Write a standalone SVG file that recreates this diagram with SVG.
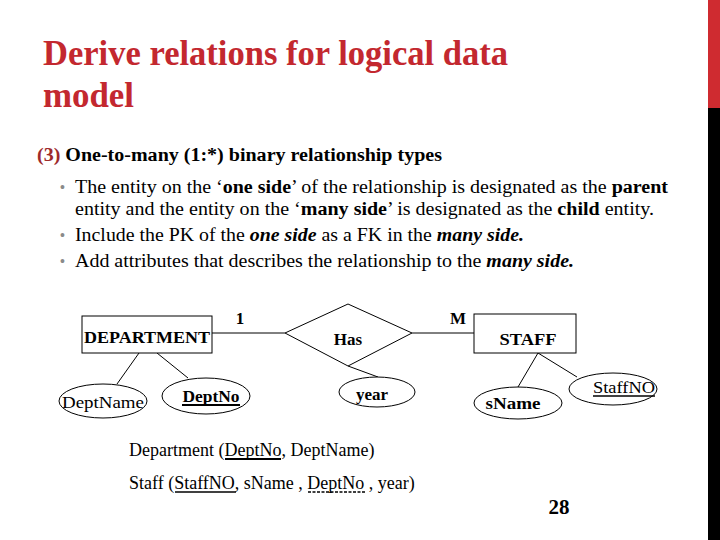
<svg xmlns="http://www.w3.org/2000/svg" width="720" height="540" viewBox="0 0 720 540">
<style>
.serif{font-family:"Liberation Serif","Times New Roman",serif;fill:#000}
.title{font-family:"Liberation Serif","Times New Roman",serif;font-weight:bold;font-size:35px;fill:#C3282F}
.body{font-family:"Liberation Serif","Times New Roman",serif;font-size:18px;fill:#000}
.b{font-weight:bold}
.bi{font-weight:bold;font-style:italic}
.bullet{fill:#8a8a8a;font-family:"Liberation Sans",Arial,sans-serif;font-size:14px}
.shape{fill:#fff;stroke:#000;stroke-width:1}
.conn line{stroke:#000;stroke-width:1}
.lbl{font-size:17px;font-weight:bold;text-anchor:middle}
.attr{font-size:17px;text-anchor:middle}
</style>
<rect x="0" y="0" width="720" height="540" fill="#fff"/>
<rect x="708" y="0" width="12" height="108" fill="#CF2B30"/>
<rect x="708" y="108" width="12" height="432" fill="#000"/>

<text class="title" x="43" y="65" textLength="465" lengthAdjust="spacingAndGlyphs">Derive relations for logical data</text>
<text class="title" x="43" y="107" textLength="91" lengthAdjust="spacingAndGlyphs">model</text>

<text class="body b" x="37" y="161" style="font-family:'Liberation Serif','Times New Roman',serif;font-size:18px" textLength="405" lengthAdjust="spacingAndGlyphs"><tspan fill="#9E2A2B">(3)</tspan> One-to-many (1:*) binary relationship types</text>

<text class="bullet" x="60" y="192">•</text>
<text class="body" x="75" y="193" style="font-family:'Liberation Serif','Times New Roman',serif" textLength="593" lengthAdjust="spacingAndGlyphs">The entity on the ‘<tspan class="b">one side</tspan>’ of the relationship is designated as the <tspan class="b">parent</tspan></text>
<text class="body" x="75" y="215" style="font-family:'Liberation Serif','Times New Roman',serif" textLength="579" lengthAdjust="spacingAndGlyphs">entity and the entity on the ‘<tspan class="b">many side</tspan>’ is designated as the <tspan class="b">child</tspan> entity.</text>
<text class="bullet" x="60" y="240">•</text>
<text class="body" x="75" y="241" style="font-family:'Liberation Serif','Times New Roman',serif" textLength="449" lengthAdjust="spacingAndGlyphs">Include the PK of the <tspan class="bi">one side</tspan> as a FK in the <tspan class="bi">many side.</tspan></text>
<text class="bullet" x="60" y="266">•</text>
<text class="body" x="75" y="267" style="font-family:'Liberation Serif','Times New Roman',serif" textLength="499" lengthAdjust="spacingAndGlyphs">Add attributes that describes the relationship to the <tspan class="bi">many side.</tspan></text>

<g id="connectors" class="conn">
<line x1="212" y1="333" x2="285" y2="333"/>
<line x1="412" y1="333" x2="474" y2="333"/>
<line x1="348" y1="366" x2="378" y2="377"/>
<line x1="139" y1="353" x2="117" y2="384"/>
<line x1="157" y1="353" x2="188" y2="378"/>
<line x1="538" y1="353" x2="518" y2="387"/>
<line x1="538" y1="353" x2="577" y2="377"/>
</g>

<g id="department">
<rect class="shape" x="82" y="316" width="130" height="37"/>
<text class="serif lbl" x="147" y="343" textLength="126" lengthAdjust="spacingAndGlyphs">DEPARTMENT</text>
</g>
<g id="has">
<polygon class="shape" points="285,333 348,304 412,333 348,366"/>
<text class="serif lbl" x="348" y="345">Has</text>
</g>
<g id="staff">
<rect class="shape" x="474" y="314" width="102" height="39"/>
<text class="serif lbl" x="528" y="345" textLength="57" lengthAdjust="spacingAndGlyphs">STAFF</text>
</g>
<text class="serif lbl" x="240" y="324">1</text>
<text class="serif lbl" x="458" y="324">M</text>

<g id="deptname">
<ellipse class="shape" cx="103" cy="401" rx="44" ry="17"/>
<text class="serif attr" x="103" y="408" textLength="82" lengthAdjust="spacingAndGlyphs">DeptName</text>
</g>
<g id="deptno">
<ellipse class="shape" cx="206" cy="396" rx="44" ry="18"/>
<text class="serif attr b" x="211" y="402" textLength="57" lengthAdjust="spacingAndGlyphs">DeptNo</text>
<line x1="182" y1="405" x2="240" y2="405" stroke="#000" stroke-width="2"/>
</g>
<g id="year">
<ellipse class="shape" cx="377" cy="392" rx="38" ry="15"/>
<text class="serif attr b" x="372" y="400">year</text>
</g>
<g id="sname">
<ellipse class="shape" cx="518" cy="403" rx="44" ry="16"/>
<text class="serif attr b" x="513" y="409" textLength="55" lengthAdjust="spacingAndGlyphs">sName</text>
</g>
<g id="staffno">
<ellipse class="shape" cx="613" cy="389" rx="44" ry="16"/>
<text class="serif attr" x="624" y="393" textLength="62" lengthAdjust="spacingAndGlyphs">StaffNO</text>
<line x1="593" y1="396" x2="655" y2="396" stroke="#000" stroke-width="1.5"/>
</g>

<text class="serif" x="129" y="456" font-size="18">Department (DeptNo, DeptName)</text>
<line x1="225" y1="459" x2="281" y2="459" stroke="#000" stroke-width="2"/>
<text class="serif" x="129" y="489" font-size="18">Staff (StaffNO, sName , DeptNo , year)</text>
<line x1="175" y1="492" x2="236" y2="492" stroke="#000" stroke-width="1.5"/>
<line x1="308" y1="492" x2="365" y2="492" stroke="#000" stroke-width="1.5" stroke-dasharray="3,1.5"/>

<text class="serif b" x="559" y="514" font-size="21" text-anchor="middle">28</text>
</svg>
